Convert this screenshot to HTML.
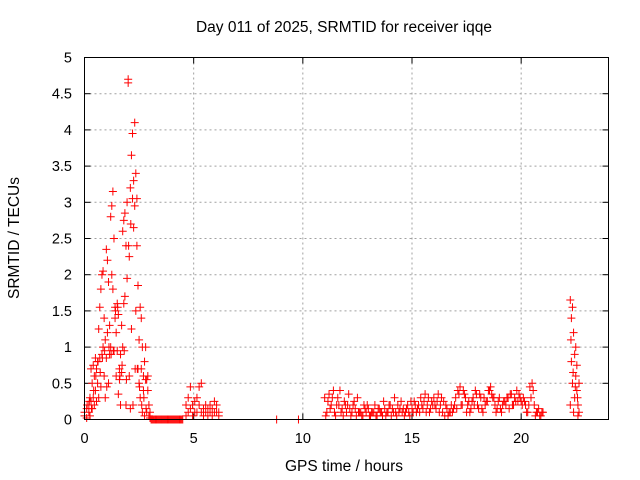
<!DOCTYPE html>
<html><head><meta charset="utf-8"><style>
html,body{margin:0;padding:0;background:#fff;}
svg{display:block;font-family:"Liberation Sans",sans-serif;}
</style></head><body>
<svg id="chart" width="640" height="480" viewBox="0 0 640 480" xmlns="http://www.w3.org/2000/svg">
<rect width="640" height="480" fill="#fff"/>
<text x="344" y="32" font-size="15.5" text-anchor="middle" fill="#000">Day 011 of 2025, SRMTID for receiver iqqe</text>
<text transform="translate(19,238) rotate(-90)" font-size="15.5" text-anchor="middle" fill="#000">SRMTID / TECUs</text>
<text x="344" y="471" font-size="15.5" text-anchor="middle" fill="#000">GPS time / hours</text>
<g id="grid"></g>
<g id="ticks"></g>
<g id="points"></g>
<rect x="84.5" y="57.5" width="524" height="362" fill="none" stroke="#000" stroke-width="1"/>
</svg>
<script>
const xTicks = [0,5,10,15,20];
const yTicks = [0,0.5,1,1.5,2,2.5,3,3.5,4,4.5,5];
const yTickLabels = ["0","0.5","1","1.5","2","2.5","3","3.5","4","4.5","5"];
const burstHours = [0,0,0.1,0.1,0.2,0.2,0.25,0.25,0.3,0.3,0.35,0.35,0.4,0.4,0.45,0.45,0.5,0.5,0.55,0.55,0.6,0.6,0.65,0.65,0.7,0.7,0.75,0.75,0.8,0.8,0.85,0.85,0.9,0.9,0.95,0.95,1.0,1.0,1.05,1.05,1.1,1.1,1.15,1.15,1.2,1.2,1.25,1.25,1.3,1.3,1.35,1.35,1.4,1.4,1.45,1.45,1.5,1.5,1.55,1.55,1.6,1.6,1.65,1.65,1.7,1.7,1.75,1.75,1.8,1.8,1.85,1.85,1.9,1.9,1.95,1.95,2.0,2.0,2.05,2.05,2.1,2.1,2.15,2.15,2.2,2.2,2.25,2.25,2.3,2.3,2.35,2.35,2.4,2.4,2.45,2.45,2.5,2.5,2.55,2.55,2.6,2.6,2.65,2.65,2.7,2.7,2.75,2.75,2.8,2.8,2.85,2.85,2.9,2.9,2.95,2.95,3.0,3.0];
const burstTecu = [0.1,0.05,0.15,0.02,0.2,0.1,0.3,0.05,0.25,0.7,0.5,0.15,0.75,0.3,0.6,0.2,0.85,0.4,0.7,0.25,0.8,0.5,1.25,0.3,1.55,0.85,1.8,0.45,2.0,0.9,2.05,1.0,1.4,0.6,1.1,0.3,2.35,0.85,2.2,1.2,1.9,0.5,1.3,0.9,2.8,1.0,2.95,2.0,3.15,1.8,2.5,0.95,1.55,1.4,1.2,0.6,0.95,1.6,0.35,1.45,0.7,0.55,0.9,0.2,1.3,0.65,2.6,1.0,2.75,1.6,2.85,1.7,2.4,0.2,3.0,1.95,4.65,4.7,2.25,0.6,3.2,0.15,3.65,1.25,3.95,3.05,3.3,2.65,4.1,2.95,3.4,1.5,3.05,2.4,1.85,0.7,1.1,0.5,1.55,0.3,1.4,0.7,1.0,0.1,0.6,0.4,0.8,0.05,1.0,0.55,0.55,0.1,0.4,0.6,0.2,0.05,0.1,0.02];
const burstHours2 = [0.12,0.22,0.32,0.42,0.52,0.62,0.72,0.82,0.92,1.02,1.12,1.22,1.32,1.42,1.52,1.62,1.72,1.82,1.92,2.02,2.12,2.22,2.32,2.42,2.52,2.62,2.72,2.82];
const burstTecu2 = [0.2,0.25,0.15,0.4,0.6,0.8,0.65,0.85,0.95,0.45,1.0,0.9,0.95,1.5,1.55,0.6,0.75,0.95,0.55,2.4,2.7,0.2,0.7,0.7,0.45,0.2,0.3,0.15];
const quietHours = [3.05,3.1,3.15,3.2,3.25,3.3,3.35,3.4,3.45,3.5,3.55,3.6,3.65,3.7,3.75,3.8,3.85,3.9,3.95,4.0,4.05,4.1,4.15,4.2,4.25,4.3,4.35,4.4,4.45,4.5,8.8,9.8];
const quietTecu = [0,0,0,0,0,0,0,0,0,0,0,0,0,0,0,0,0,0,0,0,0,0,0,0,0,0,0,0,0,0,0,0];
const smallHours = [4.65,4.65,4.75,4.75,4.85,4.85,4.95,4.95,5.05,5.05,5.15,5.15,5.25,5.25,5.35,5.35,5.45,5.45,5.55,5.55,5.65,5.65,5.75,5.75,5.85,5.85,5.95,5.95,6.05,6.05,6.15,6.15];
const smallTecu = [0.2,0.05,0.3,0.1,0.45,0.15,0.2,0.05,0.25,0.1,0.1,0.3,0.45,0.2,0.5,0.1,0.15,0.05,0.2,0.1,0.15,0.05,0.1,0.2,0.15,0.05,0.25,0.1,0.2,0.1,0.1,0.05];
const dayHours = [11.0,11.1,11.2,11.3,11.4,11.5,11.6,11.7,11.8,11.9,12.0,12.1,12.2,12.3,12.4,12.5,12.6,12.7,12.8,12.9,13.0,13.1,13.2,13.3,13.4,13.5,13.6,13.7,13.8,13.9,14.0,14.1,14.2,14.3,14.4,14.5,14.6,14.7,14.8,14.9,15.0,15.1,15.2,15.3,15.4,15.5,15.6,15.7,15.8,15.9,16.0,16.1,16.2,16.3,16.4,16.5,16.6,16.7,16.8,16.9,17.0,17.1,17.2,17.3,17.4,17.5,17.6,17.7,17.8,17.9,18.0,18.1,18.2,18.3,18.4,18.5,18.6,18.7,18.8,18.9,19.0,19.1,19.2,19.3,19.4,19.5,19.6,19.7,19.8,19.9,20.0,20.1,20.2,20.3,20.4,20.5,20.6,20.7,20.8,20.9,21.0];
const dayTecu = [0.3,0.1,0.35,0.2,0.4,0.05,0.3,0.4,0.15,0.25,0.1,0.35,0.05,0.2,0.15,0.3,0.1,0.05,0.2,0.1,0.15,0.05,0.1,0.2,0.05,0.15,0.1,0.25,0.05,0.1,0.2,0.15,0.3,0.05,0.1,0.25,0.15,0.1,0.2,0.05,0.15,0.25,0.1,0.2,0.3,0.15,0.35,0.2,0.1,0.25,0.3,0.15,0.35,0.2,0.1,0.05,0.15,0.1,0.2,0.15,0.3,0.4,0.45,0.2,0.35,0.1,0.25,0.15,0.3,0.4,0.2,0.35,0.15,0.3,0.25,0.4,0.45,0.3,0.2,0.15,0.3,0.1,0.25,0.2,0.3,0.35,0.2,0.3,0.4,0.35,0.25,0.3,0.2,0.1,0.45,0.5,0.2,0.1,0.15,0.05,0.1];
const dayHours2 = [11.05,11.25,11.45,11.65,11.85,12.05,12.25,12.45,12.65,12.85,13.05,13.25,13.45,13.65,13.85,14.05,14.25,14.45,14.65,14.85,15.05,15.25,15.45,15.65,15.85,16.05,16.25,16.45,16.65,16.85,17.05,17.25,17.45,17.65,17.85,18.05,18.25,18.45,18.65,18.85,19.05,19.25,19.45,19.65,19.85,20.05,20.25,20.45,20.65,20.85];
const dayTecu2 = [0.05,0.15,0.1,0.2,0.05,0.2,0.1,0.05,0.1,0.15,0.05,0.1,0.15,0.05,0.1,0.05,0.1,0.15,0.05,0.1,0.1,0.15,0.2,0.1,0.15,0.2,0.1,0.25,0.05,0.1,0.15,0.2,0.3,0.1,0.2,0.15,0.1,0.25,0.35,0.1,0.15,0.25,0.15,0.2,0.25,0.2,0.1,0.3,0.05,0.05];
const dayHours3 = [11.15,11.35,11.55,11.75,11.95,12.15,12.35,12.55,12.75,12.95,13.15,13.35,13.55,13.75,13.95,14.15,14.35,14.55,14.75,14.95,15.15,15.35,15.55,15.75,15.95,16.15,16.35,16.55,16.75,16.95,17.15,17.35,17.55,17.75,17.95,18.15,18.35,18.55,18.75,18.95,19.15,19.35,19.55,19.75,19.95,20.15,20.35,20.55,20.75,20.95];
const dayTecu3 = [0.25,0.3,0.2,0.1,0.2,0.15,0.25,0.1,0.05,0.2,0.1,0.05,0.1,0.15,0.2,0.1,0.2,0.1,0.15,0.25,0.2,0.1,0.25,0.3,0.2,0.25,0.3,0.2,0.1,0.2,0.35,0.4,0.2,0.25,0.35,0.3,0.2,0.4,0.3,0.25,0.2,0.3,0.35,0.25,0.3,0.25,0.2,0.4,0.1,0.1];
const spikeHours = [22.25,22.25,22.3,22.3,22.35,22.35,22.4,22.4,22.45,22.45,22.5,22.5,22.55,22.55,22.6,22.6,22.65,22.65,22.28,22.38,22.48,22.58];
const spikeTecu = [0.2,1.65,1.4,0.8,1.55,0.5,1.2,0.1,0.9,0.3,0.6,1.0,0.4,0.75,0.2,0.05,0.5,0.1,1.1,0.65,0.45,0.3];

const X0=84.5, X1=608.5, Y0=419.5, Y1=57.5;
function xs(h){return X0+(h/24)*(X1-X0);}
function ys(v){return Y0-(v/5)*(Y0-Y1);}
const NS="http://www.w3.org/2000/svg";
const grid=document.getElementById('grid'), ticks=document.getElementById('ticks'), pts=document.getElementById('points');
function mk(tag,attrs,parent){const e=document.createElementNS(NS,tag);for(const k in attrs)e.setAttribute(k,attrs[k]);parent.appendChild(e);return e;}
yTicks.forEach((v,i)=>{
  const y=ys(v);
  if(v>0&&v<5){const g=mk('line',{x1:X0,x2:X1,y1:y,y2:y,stroke:'#a0a0a0','stroke-dasharray':'2,3'},grid);
  
  }
  mk('line',{x1:X0,x2:X0+6,y1:y,y2:y,stroke:'#000'},ticks);
  mk('line',{x1:X1-6,x2:X1,y1:y,y2:y,stroke:'#000'},ticks);
  const t=mk('text',{x:72,y:y+5,'font-size':14.5,'text-anchor':'end',fill:'#000'},ticks);
  t.textContent=yTickLabels[i];
  
  
});
xTicks.forEach(h=>{
  const x=xs(h);
  if(h>0){const g=mk('line',{x1:x,x2:x,y1:Y0,y2:Y1,stroke:'#a0a0a0','stroke-dasharray':'2,3'},grid);
  
  }
  mk('line',{x1:x,x2:x,y1:Y0,y2:Y0-6,stroke:'#000'},ticks);
  mk('line',{x1:x,x2:x,y1:Y1,y2:Y1+6,stroke:'#000'},ticks);
  const t=mk('text',{x:x,y:443,'font-size':14.5,'text-anchor':'middle',fill:'#000'},ticks);
  t.textContent=String(h);
  
  
});
function plot(H,V){
  let d='';
  for(let i=0;i<H.length;i++){const x=xs(H[i]),y=ys(V[i]);d+=`M${x-4},${y}h8M${x},${y-4}v8`;}
  const p=mk('path',{d:d,stroke:'#ff0000','stroke-width':1,fill:'none'},pts);
  
  
}
plot(burstHours,burstTecu);
plot(burstHours2,burstTecu2);
plot(quietHours,quietTecu);
plot(smallHours,smallTecu);
plot(dayHours,dayTecu);
plot(dayHours2,dayTecu2);
plot(dayHours3,dayTecu3);
plot(spikeHours,spikeTecu);
</script>
</body></html>
